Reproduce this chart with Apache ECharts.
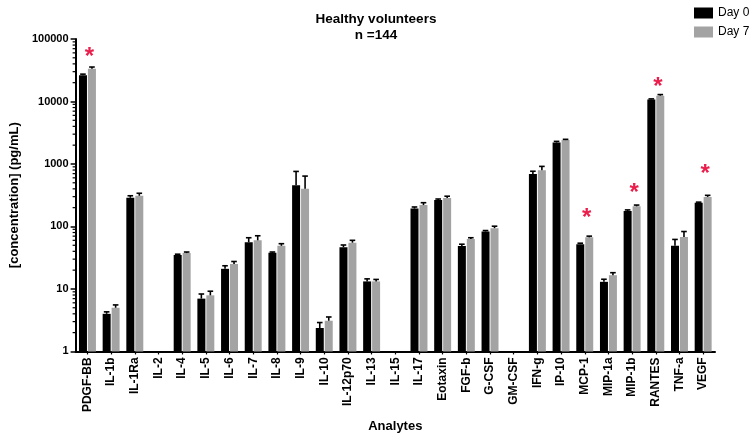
<!DOCTYPE html>
<html>
<head>
<meta charset="utf-8">
<script src="https://cdn.jsdelivr.net/npm/echarts@6/dist/echarts.min.js"></script>
<style>html,body{margin:0;padding:0;background:#fff}#c{width:750px;height:438px}</style>
</head>
<body>
<div id="c"></div>
<script>
const categories = ['PDGF-BB','IL-1b','IL-1Ra','IL-2','IL-4','IL-5','IL-6','IL-7','IL-8','IL-9','IL-10','IL-12p70','IL-13','IL-15','IL-17','Eotaxin','FGF-b','G-CSF','GM-CSF','IFN-g','IP-10','MCP-1','MIP-1a','MIP-1b','RANTES','TNF-a','VEGF'];
const day0 = [26300, 4.0, 288, null, 35, 7.0, 21, 56, 37.8, 458, 2.37, 46.5, 13.2, null, 193, 265, 48.7, 83, null, 690, 2200, 52, 13, 177, 10800, 49, 240];
const day7 = [33300, 5.0, 310, null, 37.5, 7.9, 25, 60, 49, 400, 3.1, 55, 13.2, null, 220, 285, 63, 94, null, 790, 2410, 67, 16.6, 210, 12400, 68, 297];
const day0ErrTop = [27400, 4.3, 310, null, 36, 8.3, 23.5, 66, 39, 760, 2.9, 50.5, 14.5, null, 205, 275, 52, 86, null, 765, 2300, 54, 14.3, 184, 11000, 62, 245];
const day7ErrTop = [35600, 5.55, 340, null, 39, 9.2, 27.5, 71, 53, 640, 3.56, 60, 14.2, null, 240, 305, 66, 101, null, 915, 2480, 70, 18.2, 220, 12900, 83, 315];
const sigCategories = ['PDGF-BB','MCP-1','MIP-1b','RANTES','VEGF'];
const sigMarkerLevel = [62700, 171, 422, 20800, 845];
const yTickLabels = ['1','10','100','1000','10000','100000'];
const minorMultipliers = [2,3,4,5,6,7,8,9];
const decades = [1,10,100,1000,10000];

const FONT = 'Liberation Sans, Arial, sans-serif';
const chart = echarts.init(document.getElementById('c'), null, {renderer:'canvas'});

function errData(vals, tops){
  const out = [];
  vals.forEach((v,i)=>{ if(v!=null && tops[i]!=null) out.push([i, tops[i], v]); });
  return out;
}
function errRender(offset){
  return function(params, api){
    const i = api.value(0);
    const top = api.coord([i, api.value(1)]);
    const base = api.coord([i, api.value(2)]);
    const x = top[0] + offset;
    const style = {stroke:'#000', lineWidth:1.6};
    return {type:'group', children:[
      {type:'line', shape:{x1:x, y1:base[1], x2:x, y2:top[1]}, style},
      {type:'line', shape:{x1:x-2.8, y1:top[1], x2:x+2.8, y2:top[1]}, style}
    ]};
  };
}
const minorData = [];
decades.forEach(d=>minorMultipliers.forEach(m=>minorData.push([0, d*m])));
const sigData = sigCategories.map((c,k)=>[categories.indexOf(c), sigMarkerLevel[k]]);

chart.setOption({
  animation:false,
  backgroundColor:'#fff',
  title:{
    text:'Healthy volunteers\nn =144',
    left:371, top:6, textAlign:'center',
    textStyle:{fontFamily:FONT, fontSize:13.5, fontWeight:'bold', color:'#000', lineHeight:16}
  },
  legend:{
    orient:'vertical', left:689, top:2, itemWidth:19, itemHeight:11, itemGap:7,
    icon:'rect',
    textStyle:{fontFamily:FONT, fontSize:12, color:'#000'},
    data:['Day 0','Day 7']
  },
  grid:{left:72, top:39, width:643, height:320, containLabel:false},
  xAxis:{
    type:'category', data:categories,
    name:'Analytes', nameLocation:'middle', nameGap:65,
    nameTextStyle:{fontFamily:FONT, fontSize:13, fontWeight:'bold', color:'#000'},
    axisLine:{lineStyle:{color:'#000', width:2}},
    axisTick:{show:true, alignWithLabel:true, length:3, lineStyle:{color:'#000', width:1.2}},
    axisLabel:{rotate:90, interval:0, fontFamily:FONT, fontSize:12, fontWeight:'bold', color:'#000', margin:6}
  },
  yAxis:{
    type:'log', logBase:10, min:1, max:100000,
    name:'[concentration] (pg/mL)', nameLocation:'middle', nameGap:52,
    nameTextStyle:{fontFamily:FONT, fontSize:13, fontWeight:'bold', color:'#000'},
    axisLine:{show:true, lineStyle:{color:'#000', width:2}},
    axisTick:{show:true, length:5, lineStyle:{color:'#000', width:1.5}},
    splitLine:{show:false},
    axisLabel:{fontFamily:FONT, fontSize:11, fontWeight:'bold', color:'#000', margin:7,
      formatter:v=>{const s=String(Math.round(v)); return yTickLabels.indexOf(s)>=0?s:'';}}
  },
  series:[
    {name:'Day 0', type:'bar', data:day0, barWidth:8, barGap:'12%', itemStyle:{color:'#000'}, z:2},
    {name:'Day 7', type:'bar', data:day7, barWidth:8, barGap:'12%', itemStyle:{color:'#a3a3a3'}, z:2},
    {name:'err0', type:'custom', renderItem:errRender(-4.5), data:errData(day0, day0ErrTop), z:3, clip:false, encode:{x:0,y:[1,2]}},
    {name:'err7', type:'custom', renderItem:errRender(4.5), data:errData(day7, day7ErrTop), z:3, clip:false, encode:{x:0,y:[1,2]}},
    {name:'minor', type:'custom', clip:false, z:4, data:minorData, encode:{x:0,y:1},
      renderItem:function(params, api){
        const p = api.coord([0, api.value(1)]);
        const x0 = params.coordSys.x;
        return {type:'line', shape:{x1:x0-3, y1:p[1], x2:x0, y2:p[1]}, style:{stroke:'#000', lineWidth:1.2}};
      }},
    {name:'sig', type:'custom', clip:false, z:5, data:sigData, encode:{x:0,y:1},
      renderItem:function(params, api){
        const p = api.coord([api.value(0), api.value(1)]);
        return {type:'text', x:p[0]+2, y:p[1]+6,
          style:{text:'*', fill:'#ea1f4c', font:'bold 24px '+FONT, textAlign:'center', textVerticalAlign:'middle'}};
      }}
  ]
});
</script>
</body>
</html>
